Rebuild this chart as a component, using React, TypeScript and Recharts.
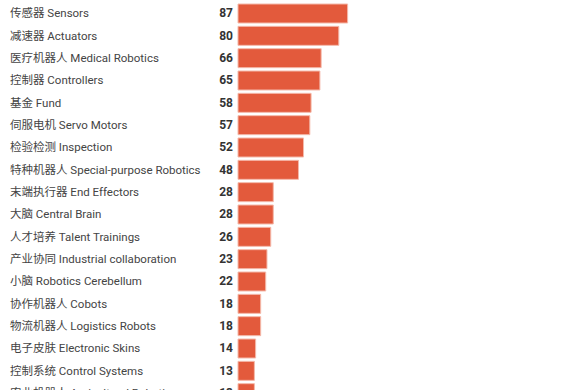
import { BarChart, Bar, XAxis, YAxis } from 'recharts'

// 领域 / 数量
const categories = [
  '传感器 Sensors',
  '减速器 Actuators',
  '医疗机器人 Medical Robotics',
  '控制器 Controllers',
  '基金 Fund',
  '伺服电机 Servo Motors',
  '检验检测 Inspection',
  '特种机器人 Special-purpose Robotics',
  '末端执行器 End Effectors',
  '大脑 Central Brain',
  '人才培养 Talent Trainings',
  '产业协同 Industrial collaboration',
  '小脑 Robotics Cerebellum',
  '协作机器人 Cobots',
  '物流机器人 Logistics Robots',
  '电子皮肤 Electronic Skins',
  '控制系统 Control Systems',
  '农业机器人 Agricultural Robotics',
]
const counts = [87, 80, 66, 65, 58, 57, 52, 48, 28, 28, 26, 23, 22, 18, 18, 14, 13, 13]

const data = categories.map((name, i) => ({ name, value: counts[i] }))

const FONT = 'Roboto, "Noto Sans CJK SC", sans-serif'

const LabelTick = (props: any) => {
  const { y, payload, index } = props
  return (
    <g>
      <text x={10} y={y} dy={4} textAnchor="start" fontSize={11.5} fill="#444" fontFamily={FONT}>
        {payload.value}
      </text>
      <text x={233} y={y} dy={4} textAnchor="end" fontSize={12} fontWeight="bold" fill="#333" fontFamily={FONT}>
        {counts[index]}
      </text>
    </g>
  )
}

export default function App() {
  return (
    <div style={{ position: 'absolute', top: 0, left: 0, background: '#fff' }}>
      <BarChart
        layout="vertical"
        width={575}
        height={410}
        data={data}
        margin={{ top: 2, right: 211, bottom: 6, left: 0 }}
      >
        <XAxis type="number" domain={[0, 100]} hide />
        <YAxis
          type="category"
          dataKey="name"
          width={238}
          axisLine={false}
          tickLine={false}
          interval={0}
          tick={<LabelTick />}
        />
        <Bar
          dataKey="value"
          fill="#e35a3c"
          stroke="#f4b9aa"
          strokeWidth={1}
          barSize={19}
          isAnimationActive={false}
        />
      </BarChart>
    </div>
  )
}
